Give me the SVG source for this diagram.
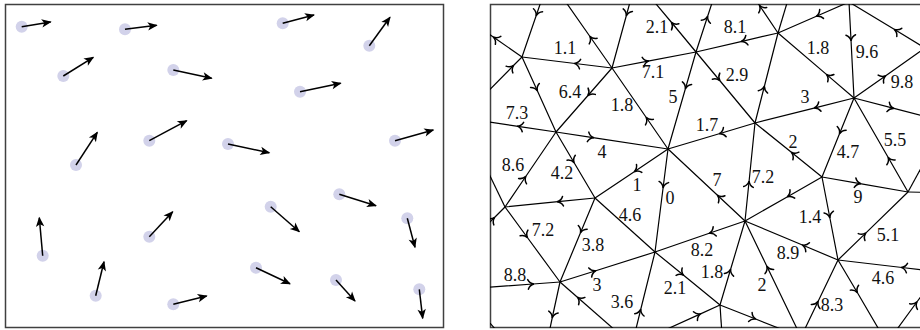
<svg xmlns="http://www.w3.org/2000/svg" width="920" height="330" viewBox="0 0 920 330">
<style>
.frame{fill:#fff;stroke:#404040;stroke-width:1.5}
.dot{fill:#d2d2ea}
.vec{stroke:#000;stroke-width:1.5;fill:none;marker-end:url(#stealth)}
.e{stroke:#000;stroke-width:1.2;fill:none}
.a{stroke:#000;stroke-width:1.2;fill:none;marker-mid:url(#to)}
.lbl{font-family:"Liberation Serif","DejaVu Serif",serif;font-size:18px;fill:#111;text-anchor:middle}
</style>
<defs>
<marker id="stealth" markerUnits="userSpaceOnUse" markerWidth="12" markerHeight="10" viewBox="-10 -5 12 10" refX="0" refY="0" orient="auto">
<path d="M1,0 L-9,-4.2 L-6.5,0 L-9,4.2 Z" fill="#000"/>
</marker>
<marker id="to" markerUnits="userSpaceOnUse" markerWidth="12" markerHeight="12" viewBox="-7 -6 10 12" refX="0" refY="0" orient="auto">
<path d="M-5,-4.8 C-3.8,-1.9 -1.5,-0.5 0.9,0 C-1.5,0.5 -3.8,1.9 -5,4.8" stroke="#000" stroke-width="1.5" fill="none" stroke-linecap="round"/>
</marker>
<clipPath id="clipR"><rect x="490" y="4" width="440" height="324"/></clipPath>
</defs>
<g id="left-panel">
<rect class="frame" x="5.5" y="4.5" width="438" height="323"/>
<g id="particles">
<circle class="dot" cx="21.7" cy="26.7" r="6"/><line class="vec" x1="21.7" y1="26.7" x2="50.7" y2="22"/>
<circle class="dot" cx="125" cy="29.3" r="6"/><line class="vec" x1="125" y1="29.3" x2="156.7" y2="25.3"/>
<circle class="dot" cx="63.3" cy="76" r="6"/><line class="vec" x1="63.3" y1="76" x2="93.3" y2="57.3"/>
<circle class="dot" cx="173.3" cy="70" r="6"/><line class="vec" x1="173.3" y1="70" x2="211.7" y2="78.3"/>
<circle class="dot" cx="76" cy="165" r="6"/><line class="vec" x1="76" y1="165" x2="97.3" y2="132.3"/>
<circle class="dot" cx="149.3" cy="140.7" r="6"/><line class="vec" x1="149.3" y1="140.7" x2="186.7" y2="120.7"/>
<circle class="dot" cx="282.7" cy="23.3" r="6"/><line class="vec" x1="282.7" y1="23.3" x2="314" y2="15"/>
<circle class="dot" cx="369.3" cy="45.7" r="6"/><line class="vec" x1="369.3" y1="45.7" x2="390" y2="17.3"/>
<circle class="dot" cx="300" cy="91.7" r="6"/><line class="vec" x1="300" y1="91.7" x2="340.7" y2="83.3"/>
<circle class="dot" cx="228" cy="144" r="6"/><line class="vec" x1="228" y1="144" x2="269.3" y2="152.7"/>
<circle class="dot" cx="395" cy="140.7" r="6"/><line class="vec" x1="395" y1="140.7" x2="433.3" y2="130"/>
<circle class="dot" cx="42.7" cy="255.7" r="6"/><line class="vec" x1="42.7" y1="255.7" x2="39.3" y2="217.7"/>
<circle class="dot" cx="149.3" cy="236.7" r="6"/><line class="vec" x1="149.3" y1="236.7" x2="172.7" y2="211.7"/>
<circle class="dot" cx="95.7" cy="295.7" r="6"/><line class="vec" x1="95.7" y1="295.7" x2="104" y2="261.7"/>
<circle class="dot" cx="173.3" cy="304.3" r="6"/><line class="vec" x1="173.3" y1="304.3" x2="206.7" y2="296"/>
<circle class="dot" cx="270.7" cy="206.7" r="6"/><line class="vec" x1="270.7" y1="206.7" x2="299.3" y2="231.7"/>
<circle class="dot" cx="339.3" cy="194.3" r="6"/><line class="vec" x1="339.3" y1="194.3" x2="376" y2="205.7"/>
<circle class="dot" cx="407.3" cy="218.3" r="6"/><line class="vec" x1="407.3" y1="218.3" x2="415" y2="247.3"/>
<circle class="dot" cx="256" cy="267.7" r="6"/><line class="vec" x1="256" y1="267.7" x2="290" y2="283.7"/>
<circle class="dot" cx="336" cy="280" r="6"/><line class="vec" x1="336" y1="280" x2="355" y2="301"/>
<circle class="dot" cx="419.3" cy="289.3" r="6"/><line class="vec" x1="419.3" y1="289.3" x2="422.7" y2="318.3"/>
</g>
</g>
<g id="right-panel">
<rect class="frame" x="490.5" y="4.5" width="440" height="323"/>
<g id="connectors" clip-path="url(#clipR)">
<path class="a" d="M612,68 L575.1,63.5 L522,57"/>
<path class="a" d="M549,-22 L536.4,15 L522,57"/>
<path class="a" d="M522,57 L494,37.5 L460,14"/>
<path class="a" d="M462,118 L513,66 L522,57"/>
<path class="a" d="M522,57 L537,90 L556,132"/>
<path class="a" d="M612,68 L590.3,37 L549,-22"/>
<path class="a" d="M612,68 L588.4,95 L556,132"/>
<path class="a" d="M612,68 L648,61.1 L696,52"/>
<path class="a" d="M668,149 L646.6,118 L612,68"/>
<path class="a" d="M636,-20 L626.5,15 L612,68"/>
<path class="a" d="M696,52 L672,23 L636,-20"/>
<path class="a" d="M696,52 L707.4,17 L727,-43"/>
<path class="a" d="M778,33 L742,41.3 L696,52"/>
<path class="a" d="M696,52 L719.3,80 L755,123"/>
<path class="a" d="M696,52 L685.6,88 L668,149"/>
<path class="a" d="M778,33 L759.9,6 L727,-43"/>
<path class="a" d="M755,123 L764.2,87 L778,33"/>
<path class="e" d="M778,33 L793,-17"/>
<path class="a" d="M849,2 L817,16 L778,33"/>
<path class="a" d="M854,98 L827,74.9 L778,33"/>
<path class="a" d="M849,2 L851,40 L854,98"/>
<path class="a" d="M925,48 L895,29.8 L849,2"/>
<path class="a" d="M854,98 L885,76.2 L925,48"/>
<path class="a" d="M854,98 L815,107.8 L755,123"/>
<path class="a" d="M854,98 L893,108.2 L946,122"/>
<path class="a" d="M854,98 L839.8,133 L822,177"/>
<path class="a" d="M908,192 L888.5,158 L854,98"/>
<path class="a" d="M822,177 L792,152.8 L755,123"/>
<path class="a" d="M822,177 L860,183.6 L908,192"/>
<path class="a" d="M822,177 L788,196.4 L745,221"/>
<path class="a" d="M822,177 L829.7,217 L838,260"/>
<path class="a" d="M838,260 L865.2,233.6 L908,192"/>
<path class="e" d="M908,192 L946,122"/>
<path class="e" d="M908,192 L960,193"/>
<path class="a" d="M755,123 L720,133.5 L668,149"/>
<path class="a" d="M556,132 L593,137.6 L668,149"/>
<path class="a" d="M668,149 L635,171.2 L595,198"/>
<path class="a" d="M668,149 L663.2,187 L655,252"/>
<path class="a" d="M745,221 L718,195.8 L668,149"/>
<path class="a" d="M745,221 L749,182 L755,123"/>
<path class="a" d="M745,221 L710,233 L655,252"/>
<path class="a" d="M720,305 L730.4,270 L745,221"/>
<path class="a" d="M801,337 L767.2,267 L745,221"/>
<path class="a" d="M838,260 L803,245.3 L745,221"/>
<path class="a" d="M655,252 L683,274.8 L720,305"/>
<path class="a" d="M632,345 L640.6,310 L655,252"/>
<path class="a" d="M560,282 L595,271 L655,252"/>
<path class="e" d="M595,198 L655,252"/>
<path class="a" d="M632,345 L700,314.1 L720,305"/>
<path class="e" d="M720,305 L723,350"/>
<path class="a" d="M720,305 L755,318.8 L801,337"/>
<path class="a" d="M966,275 L902,267.5 L838,260"/>
<path class="a" d="M838,260 L857,292 L895,357"/>
<path class="a" d="M801,337 L817.8,302 L838,260"/>
<path class="a" d="M895,332 L916.5,302.5 L935,277"/>
<path class="a" d="M505,207 L527,237 L560,282"/>
<path class="a" d="M595,198 L580.8,232 L560,282"/>
<path class="a" d="M450,290 L533,284 L560,282"/>
<path class="a" d="M560,282 L552.4,317 L548,338"/>
<path class="a" d="M632,345 L578,297.75 L560,282"/>
<path class="a" d="M556,132 L518,126.3 L462,118"/>
<path class="a" d="M556,132 L573.7,162 L595,198"/>
<path class="a" d="M505,207 L525.4,177 L556,132"/>
<path class="a" d="M595,198 L558,201.7 L505,207"/>
<path class="e" d="M505,207 L462,118"/>
<path class="a" d="M470,242 L494,218 L505,207"/>
<path class="e" d="M480,312 L505,340"/>
</g>
<g id="weights" class="lbl">
<text x="565" y="54">1.1</text>
<text x="657" y="33">2.1</text>
<text x="735" y="33">8.1</text>
<text x="818" y="54">1.8</text>
<text x="867" y="58">9.6</text>
<text x="653" y="78">7.1</text>
<text x="737" y="81">2.9</text>
<text x="902" y="88">9.8</text>
<text x="570" y="98">6.4</text>
<text x="673" y="103">5</text>
<text x="805" y="103">3</text>
<text x="517" y="119">7.3</text>
<text x="622" y="111">1.8</text>
<text x="707" y="131">1.7</text>
<text x="895" y="146">5.5</text>
<text x="793" y="148">2</text>
<text x="602" y="158">4</text>
<text x="848" y="158">4.7</text>
<text x="513" y="171">8.6</text>
<text x="562" y="179">4.2</text>
<text x="637" y="191">1</text>
<text x="717" y="186">7</text>
<text x="763" y="183">7.2</text>
<text x="858" y="203">9</text>
<text x="670" y="204">0</text>
<text x="810" y="223">1.4</text>
<text x="630" y="221">4.6</text>
<text x="543" y="236">7.2</text>
<text x="888" y="241">5.1</text>
<text x="593" y="251">3.8</text>
<text x="702" y="256">8.2</text>
<text x="788" y="259">8.9</text>
<text x="515" y="281">8.8</text>
<text x="712" y="278">1.8</text>
<text x="762" y="291">2</text>
<text x="883" y="284">4.6</text>
<text x="597" y="291">3</text>
<text x="675" y="294">2.1</text>
<text x="832" y="311">8.3</text>
<text x="622" y="308">3.6</text>
</g>
</g>
</svg>
